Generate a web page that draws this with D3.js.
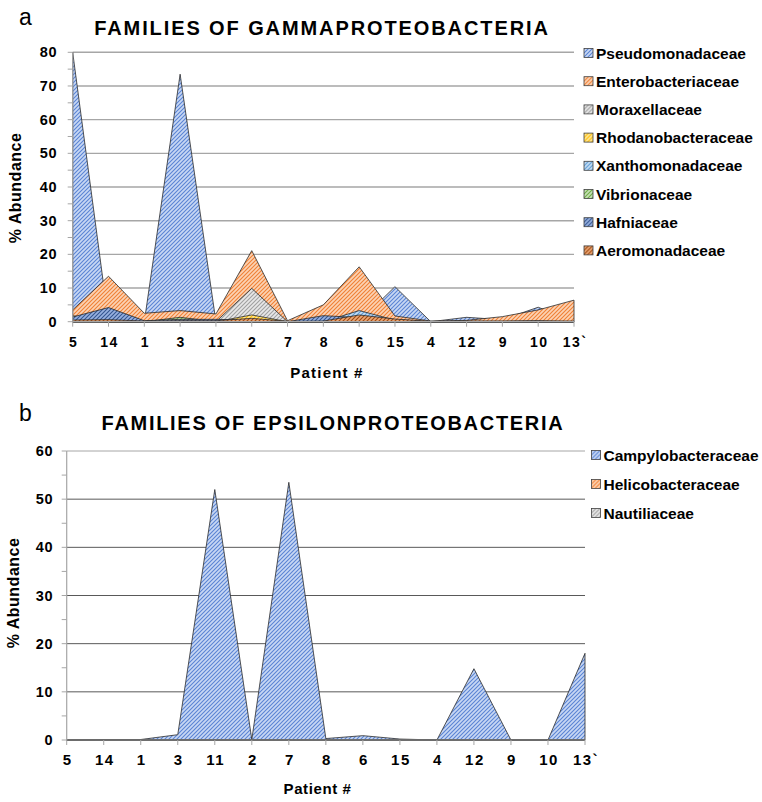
<!DOCTYPE html>
<html>
<head>
<meta charset="utf-8">
<script src="https://cdn.jsdelivr.net/npm/d3@7"></script>
<style>
  body { margin: 0; background: #fff; }
  svg text { font-family: "Liberation Sans", Arial, sans-serif; }
</style>
</head>
<body>
<svg id="canvas" width="762" height="802"></svg>
<script>
// patients on the x axis (same order in both panels)
let patients = ['5', '14', '1', '3', '11', '2', '7', '8', '6', '15', '4', '12', '9', '10', '13`']

// panel a - gammaproteobacteria (overlapping areas, first one drawn at the back)
let gammaFamilies = ['Pseudomonadaceae', 'Enterobacteriaceae', 'Moraxellaceae', 'Rhodanobacteraceae',
                     'Xanthomonadaceae', 'Vibrionaceae', 'Hafniaceae', 'Aeromonadaceae']
let pseudomonadaceae   = [80, 0, 0, 73.5, 0, 0, 0, 0, 0, 10.4, 0, 1.3, 0.6, 4.3, 0]
let enterobacteriaceae = [3.5, 13.5, 2.5, 3.3, 2.3, 21.1, 0.3, 5.0, 16.3, 1.7, 0.2, 0.4, 1.5, 3.5, 6.4]
let moraxellaceae      = [0.5, 0, 0, 0.3, 0, 9.9, 0, 0, 0, 0, 0, 0, 0, 0, 0]
let rhodanobacteraceae = [0, 0, 0, 0, 0, 2.0, 0, 0, 0, 0, 0, 0, 0, 0, 0]
let xanthomonadaceae   = [0.3, 0, 0, 0, 0, 0, 0, 0, 3.3, 0.5, 0, 0, 0, 0, 0]
let vibrionaceae       = [1.8, 0, 0, 1.3, 0, 0, 0, 0, 0, 0, 0, 0, 0, 0, 0]
let hafniaceae         = [1.4, 4.2, 0.3, 0.7, 0.7, 0.4, 0, 1.8, 1.2, 0.5, 0, 0.2, 0.2, 0.3, 0]
let aeromonadaceae     = [0.5, 0.6, 0.2, 0.3, 0.3, 1.0, 0.1, 0.2, 2.0, 0.8, 0.1, 0.1, 0.1, 0.2, 0.2]
let gammaTicks = [0, 10, 20, 30, 40, 50, 60, 70, 80]

// panel b - epsilonproteobacteria
let epsilonFamilies = ['Campylobacteraceae', 'Helicobacteraceae', 'Nautiliaceae']
let campylobacteraceae = [0, 0.1, 0.1, 1.1, 52, 0.1, 53.5, 0.3, 0.9, 0.2, 0, 14.8, 0, 0, 18]
let helicobacteraceae  = [0, 0, 0, 0, 0, 0, 0, 0, 0, 0, 0, 0, 0, 0, 0]
let nautiliaceae       = [0, 0, 0, 0, 0, 0, 0, 0, 0, 0, 0, 0, 0, 0, 0]
let epsilonTicks = [0, 10, 20, 30, 40, 50, 60]

let canvas = d3.select('#canvas')
let defs = canvas.append('defs')

// excel-ish "wide upward diagonal" pattern fills: [background, stripe]
let fills = {
    'Pseudomonadaceae':   ['#c8d8f4', '#5a84d4'],
    'Enterobacteriaceae': ['#fcd3b4', '#f08034'],
    'Moraxellaceae':      ['#e8e8e8', '#a0a0a0'],
    'Rhodanobacteraceae': ['#ffe699', '#ffc000'],
    'Xanthomonadaceae':   ['#c6def4', '#5b9bd5'],
    'Vibrionaceae':       ['#c5e0b4', '#70ad47'],
    'Hafniaceae':         ['#97b1e0', '#33548f'],
    'Aeromonadaceae':     ['#eba776', '#9e480e'],
    'Campylobacteraceae': ['#c8d8f4', '#5a84d4'],
    'Helicobacteraceae':  ['#fcd3b4', '#f08034'],
    'Nautiliaceae':       ['#e8e8e8', '#a0a0a0']
}

Object.keys(fills).forEach((name) => {
    let p = defs.append('pattern')
                .attr('id', 'pat-' + name)
                .attr('patternUnits', 'userSpaceOnUse')
                .attr('width', 4)
                .attr('height', 4)
    p.append('rect')
     .attr('width', 4)
     .attr('height', 4)
     .attr('fill', fills[name][0])
    p.append('path')
     .attr('d', 'M-1,1 l2,-2 M0,4 l4,-4 M3,5 l2,-2')
     .attr('stroke', fills[name][1])
     .attr('stroke-width', 1.1)
})

let drawPanel = (cfg) => {
    let g = canvas.append('g')

    let x = d3.scalePoint()
              .domain(patients)
              .range([cfg.left, cfg.right])
    let y = d3.scaleLinear()
              .domain([0, cfg.max])
              .range([cfg.bottom, cfg.top])

    // gridlines
    g.selectAll('.grid')
     .data(cfg.ticks)
     .enter()
     .append('line')
     .attr('x1', cfg.left)
     .attr('x2', cfg.right)
     .attr('y1', (d) => y(d))
     .attr('y2', (d) => y(d))
     .attr('stroke', (d) => (d === cfg.max || d === 0) ? '#a6a6a6' : cfg.gridColor)
     .attr('stroke-width', cfg.gridWidth)

    // areas, each one from zero, later ones drawn in front
    let area = d3.area()
                 .x((d, i) => x(patients[i]))
                 .y0(y(0))
                 .y1((d) => y(d))

    g.selectAll('.area')
     .data(cfg.families)
     .enter()
     .append('path')
     .attr('d', (f, k) => area(cfg.values[k]))
     .attr('fill', (f) => 'url(#pat-' + f + ')')
     .attr('stroke', '#2b2b2b')
     .attr('stroke-width', 0.8)
     .attr('stroke-linejoin', 'round')

    // y axis line + ticks
    g.append('line')
     .attr('x1', cfg.left).attr('x2', cfg.left)
     .attr('y1', cfg.top).attr('y2', cfg.bottom)
     .attr('stroke', '#a6a6a6')
     .attr('stroke-width', 1.2)

    let minor = d3.range(0, cfg.max + 0.1, 5)
    g.selectAll('.ytick')
     .data(minor)
     .enter()
     .append('line')
     .attr('x1', cfg.left - 5).attr('x2', cfg.left)
     .attr('y1', (d) => y(d)).attr('y2', (d) => y(d))
     .attr('stroke', '#a6a6a6')
     .attr('stroke-width', 1)

    g.selectAll('.ylab')
     .data(cfg.ticks)
     .enter()
     .append('text')
     .attr('x', cfg.yLabelX)
     .attr('y', (d) => y(d) + 5)
     .attr('text-anchor', 'end')
     .style('font-size', '14.5px')
     .style('font-weight', 'bold')
     .style('letter-spacing', '0.5px')
     .text((d) => d)

    // x axis line + ticks
    g.append('line')
     .attr('x1', cfg.left).attr('x2', cfg.right)
     .attr('y1', cfg.bottom).attr('y2', cfg.bottom)
     .attr('stroke', '#a6a6a6')
     .attr('stroke-width', 1.2)

    g.selectAll('.xtick')
     .data(patients)
     .enter()
     .append('line')
     .attr('x1', (d) => x(d)).attr('x2', (d) => x(d))
     .attr('y1', cfg.bottom).attr('y2', cfg.bottom + 5)
     .attr('stroke', '#a6a6a6')
     .attr('stroke-width', 1)

    g.selectAll('.xlab')
     .data(patients)
     .enter()
     .append('text')
     .attr('x', (d) => x(d) + 1)
     .attr('y', cfg.xLabelY)
     .attr('text-anchor', 'middle')
     .style('font-size', cfg.xFont)
     .style('font-weight', 'bold')
     .style('letter-spacing', '1.5px')
     .text((d) => d)

    // axis titles
    g.append('text')
     .attr('x', cfg.xTitle[0])
     .attr('y', cfg.xTitle[1])
     .attr('text-anchor', 'middle')
     .style('font-size', '15px')
     .style('font-weight', 'bold')
     .style('letter-spacing', cfg.xTitleSpacing)
     .text('Patient #')

    g.append('text')
     .attr('transform', 'translate(' + cfg.yTitle[0] + ',' + cfg.yTitle[1] + ') rotate(-90)')
     .attr('text-anchor', 'middle')
     .style('font-size', '16px')
     .style('font-weight', 'bold')
     .style('letter-spacing', '0.5px')
     .text('% Abundance')

    // chart title and panel letter
    g.append('text')
     .attr('x', cfg.titleX)
     .attr('y', cfg.titleY)
     .attr('text-anchor', 'middle')
     .style('font-size', '20px')
     .style('font-weight', 'bold')
     .style('letter-spacing', cfg.titleSpacing)
     .text(cfg.title)

    g.append('text')
     .attr('x', 19)
     .attr('y', cfg.letterY)
     .style('font-size', '23px')
     .text(cfg.letter)

    // legend
    let legend = g.selectAll('.legend')
                  .data(cfg.families)
                  .enter()
                  .append('g')
                  .attr('transform', (d, i) => 'translate(' + cfg.legendX + ',' + (cfg.legendY + i * cfg.legendStep) + ')')

    legend.append('rect')
          .attr('x', 0)
          .attr('y', -4.5)
          .attr('width', 9)
          .attr('height', 9)
          .attr('fill', (d) => 'url(#pat-' + d + ')')
          .attr('stroke', '#404040')
          .attr('stroke-width', 0.8)

    legend.append('text')
          .attr('x', 12)
          .attr('y', 5.5)
          .style('font-size', '15.5px')
          .style('font-weight', 'bold')
          .text((d) => d)
}

drawPanel({
    families: gammaFamilies,
    values: [pseudomonadaceae, enterobacteriaceae, moraxellaceae, rhodanobacteraceae,
             xanthomonadaceae, vibrionaceae, hafniaceae, aeromonadaceae],
    ticks: gammaTicks,
    max: 80,
    left: 72.7, right: 574, top: 52.3, bottom: 321.7,
    gridColor: '#a6a6a6', gridWidth: 1.4,
    yLabelX: 57,
    xLabelY: 347, xFont: '14px',
    xTitle: [327, 378], xTitleSpacing: '1.2px',
    yTitle: [21, 188],
    title: 'FAMILIES OF GAMMAPROTEOBACTERIA',
    titleX: 322, titleY: 34.5, titleSpacing: '1.9px',
    letter: 'a', letterY: 25,
    legendX: 584, legendY: 53, legendStep: 28.2
})

drawPanel({
    families: epsilonFamilies,
    values: [campylobacteraceae, helicobacteraceae, nautiliaceae],
    ticks: epsilonTicks,
    max: 60,
    left: 66.7, right: 585, top: 451, bottom: 740,
    gridColor: '#595959', gridWidth: 1,
    yLabelX: 53,
    xLabelY: 764.5, xFont: '15px',
    xTitle: [317.5, 794], xTitleSpacing: '0.6px',
    yTitle: [19, 593],
    title: 'FAMILIES OF EPSILONPROTEOBACTERIA',
    titleX: 333, titleY: 429.5, titleSpacing: '1.7px',
    letter: 'b', letterY: 421,
    legendX: 591.5, legendY: 455, legendStep: 29
})
</script>
</body>
</html>
